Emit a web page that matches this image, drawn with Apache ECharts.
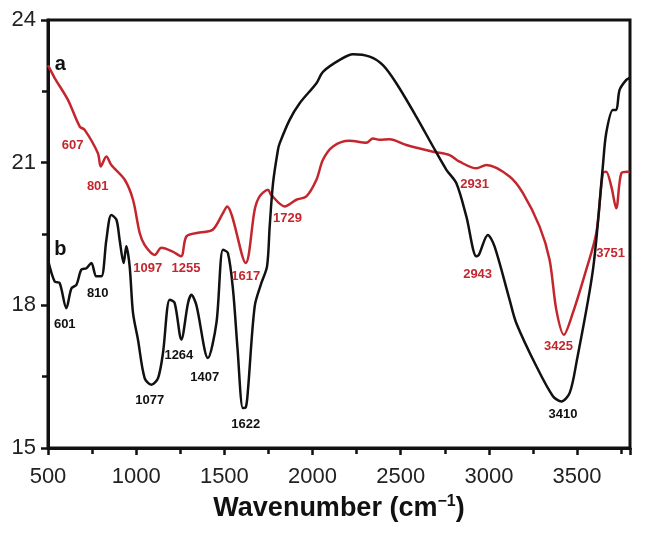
<!DOCTYPE html>
<html>
<head>
<meta charset="utf-8">
<script src="https://cdn.jsdelivr.net/npm/echarts@6/dist/echarts.min.js"></script>
<style>
  html, body { margin: 0; padding: 0; background: #fff; }
  #chart { width: 648px; height: 534px; }
</style>
</head>
<body>
<div id="chart"></div>
<script>
// curve a (red) : [wavenumber, value]
var curveA = [
  [500, 23.05], [504, 23.02], [538, 22.78], [613, 22.32], [680, 21.76], [708, 21.69],
  [783, 21.20], [799, 20.92], [831, 21.13], [859, 20.95], [935, 20.64], [982, 20.22],
  [1020, 19.52], [1048, 19.27], [1105, 19.06], [1143, 19.21], [1207, 19.13], [1255, 19.03],
  [1285, 19.45], [1360, 19.53], [1434, 19.59], [1492, 19.94], [1515, 20.08], [1621, 18.89],
  [1672, 20.01], [1700, 20.29], [1747, 20.43], [1766, 20.32], [1842, 20.08], [1908, 20.22],
  [1965, 20.29], [2022, 20.64], [2059, 21.06], [2116, 21.34], [2210, 21.46], [2305, 21.42],
  [2342, 21.51], [2380, 21.48], [2437, 21.49], [2532, 21.37], [2683, 21.23], [2777, 21.16],
  [2834, 21.02], [2929, 20.88], [2985, 20.95], [3117, 20.71], [3193, 20.36], [3287, 19.66],
  [3344, 18.96], [3382, 17.91], [3425, 17.38], [3476, 17.84], [3552, 18.75], [3609, 19.52],
  [3646, 20.78], [3665, 20.81], [3694, 20.50], [3722, 20.04], [3751, 20.78], [3788, 20.81],
  [3798, 20.81]
];

// curve b (black)
var curveB = [
  [500, 18.96], [538, 18.50], [566, 18.47], [604, 17.94], [633, 18.36], [661, 18.43],
  [689, 18.75], [718, 18.78], [746, 18.89], [774, 18.61], [803, 18.61], [831, 19.38],
  [859, 19.90], [888, 19.80], [906, 19.38], [929, 18.89], [944, 19.24], [963, 18.82],
  [982, 17.84], [1010, 17.28], [1048, 16.47], [1086, 16.33], [1124, 16.47], [1152, 17.00],
  [1190, 18.12], [1218, 18.05], [1256, 17.28], [1294, 18.05], [1313, 18.22], [1341, 18.01],
  [1407, 16.89], [1455, 17.63], [1492, 19.17], [1520, 19.10], [1549, 18.33], [1575, 17.07],
  [1605, 15.84], [1621, 15.85], [1634, 16.23], [1672, 17.98], [1710, 18.47], [1742, 18.82],
  [1757, 19.66], [1776, 20.57], [1804, 21.27], [1814, 21.41], [1870, 21.90], [1927, 22.25],
  [2022, 22.67], [2059, 22.91], [2154, 23.16], [2229, 23.28], [2324, 23.23], [2399, 23.05],
  [2475, 22.67], [2588, 21.97], [2683, 21.34], [2759, 20.85], [2815, 20.57], [2872, 19.87],
  [2929, 19.03], [2943, 19.06], [2994, 19.48], [3032, 19.24], [3117, 18.12], [3155, 17.63],
  [3269, 16.72], [3363, 16.09], [3411, 15.98], [3458, 16.16], [3496, 16.79], [3590, 18.75],
  [3646, 20.92], [3665, 21.62], [3703, 22.11], [3722, 22.11], [3741, 22.53], [3779, 22.74],
  [3798, 22.78]
];

// peak labels: [x, y, text]
var redLabels = [
  [640, 21.37, '607'], [782, 20.51, '801'], [1065, 18.77, '1097'], [1282, 18.77, '1255'],
  [1621, 18.60, '1617'], [1858, 19.82, '1729'], [2919, 20.55, '2931'], [2936, 18.64, '2943'],
  [3394, 17.13, '3425'], [3690, 19.10, '3751']
];
var blackLabels = [
  [595, 17.59, '601'], [782, 18.24, '810'], [1077, 16.00, '1077'], [1242, 16.94, '1264'],
  [1389, 16.48, '1407'], [1621, 15.49, '1622'], [3420, 15.70, '3410']
];
var curveNames = [[570, 23.06, 'a'], [570, 19.18, 'b']];

var xTicks = { min: 500, max: 3800, step: 500 };
var yTicks = { min: 15, max: 24, step: 3 };

var RED = '#c4262e';
var FONT = '"Liberation Sans", Arial, sans-serif';

var chart = echarts.init(document.getElementById('chart'), null, { renderer: 'canvas' });

function labelSeries(list, color, size) {
  return {
    type: 'scatter',
    symbolSize: 0,
    silent: true,
    z: 5,
    itemStyle: { opacity: 1 },
    data: list.map(function (d) { return { value: [d[0], d[1]], name: d[2] }; }),
    label: {
      show: true,
      position: 'inside',
      formatter: function (p) { return p.name; },
      color: color,
      opacity: 1,
      fontWeight: 'bold',
      fontSize: size,
      fontFamily: FONT
    }
  };
}

var option = {
  animation: false,
  backgroundColor: '#fff',
  grid: {
    left: 48, right: 18, top: 20, bottom: 86,
    show: true, borderColor: '#111', borderWidth: 3, backgroundColor: 'transparent'
  },
  xAxis: {
    type: 'value',
    min: xTicks.min, max: xTicks.max, interval: xTicks.step,
    name: '{a|Wavenumber (cm}{s|−1}{a|)}',
    nameLocation: 'middle',
    nameGap: 46,
    nameTextStyle: {
      rich: {
        a: { fontSize: 27, fontWeight: 'bold', color: '#111', fontFamily: FONT },
        s: { fontSize: 16, fontWeight: 'bold', color: '#111', fontFamily: FONT, padding: [0, 0, 14, 0] }
      }
    },
    axisLine: { lineStyle: { color: '#111', width: 3 } },
    axisTick: { show: true, inside: false, length: 7, lineStyle: { color: '#111', width: 2.5 } },
    minorTick: { show: true, splitNumber: 2, length: 6, lineStyle: { color: '#111', width: 2.5 } },
    splitLine: { show: false },
    axisLabel: { fontSize: 22, color: '#222', fontFamily: FONT, margin: 18, showMaxLabel: false,
      formatter: function (v) { return v === 3800 ? '' : String(v); } }
  },
  yAxis: {
    type: 'value',
    min: yTicks.min, max: yTicks.max, interval: yTicks.step,
    axisLine: { show: true, lineStyle: { color: '#111', width: 3 } },
    axisTick: { show: true, inside: false, length: 7, lineStyle: { color: '#111', width: 2.5 } },
    minorTick: { show: true, splitNumber: 2, length: 6, lineStyle: { color: '#111', width: 2.5 } },
    splitLine: { show: false },
    axisLabel: { fontSize: 22, color: '#222', fontFamily: FONT, margin: 12 }
  },
  series: [
    {
      name: 'a', type: 'line', data: curveA, showSymbol: false, smooth: 0.3,
      lineStyle: { color: RED, width: 2.5 }, z: 3
    },
    {
      name: 'b', type: 'line', data: curveB, showSymbol: false, smooth: 0.3,
      lineStyle: { color: '#111', width: 2.5 }, z: 3
    },
    labelSeries(redLabels, RED, 13),
    labelSeries(blackLabels, '#111', 13),
    labelSeries(curveNames, '#111', 20)
  ]
};

option && chart.setOption(option);
</script>
</body>
</html>
